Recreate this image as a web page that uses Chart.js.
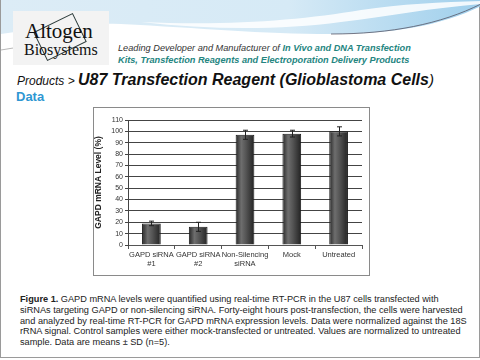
<!DOCTYPE html>
<html>
<head>
<meta charset="utf-8">
<script src="https://cdn.jsdelivr.net/npm/chart.js@4"></script>
<style>
  body { margin: 0; width: 480px; height: 360px; background: #fff; font-family: Arial, "Liberation Sans", sans-serif; overflow: hidden; }
  #slide { position: absolute; left: 0; top: 0; width: 478px; height: 357px; border: 1px solid #9a9a9a; border-top: none; background: #fff; }
  #swoosh { position: absolute; left: 0; top: 0; }
  #logo { position: absolute; left: 12px; top: 11px; width: 96px; height: 54px; background: #f3f3f3; }
  #logo .sq { position: absolute; left: 25px; top: 10px; width: 42px; height: 30px; border: 1px solid #2c3b3b; transform: rotate(-26deg); }
  #logo .a1 { position: absolute; left: 12px; top: 8px; font: 21px "Liberation Serif", serif; color: #111; }
  #logo .a2 { position: absolute; left: 11px; top: 30px; font: 16px "Liberation Serif", serif; color: #111; }
  .tag { position: absolute; left: 117px; font: italic 9.2px Arial, "Liberation Sans", sans-serif; white-space: nowrap; color: #333; }
  .tag b { color: #24857f; }
  #title { position: absolute; left: 16px; top: 71px; white-space: nowrap; color: #111; }
  #title .p { font: italic 12px Arial, "Liberation Sans", sans-serif; }
  #title .t { font: italic bold 16px Arial, "Liberation Sans", sans-serif; }
  #data { position: absolute; left: 15px; top: 89px; font: bold 13px Arial, "Liberation Sans", sans-serif; color: #2f97d2; }
  #box { position: absolute; left: 92px; top: 107px; width: 275px; height: 167px; border: 1px solid #8a8a8a; background: #fff; }
  #cap { position: absolute; left: 19px; top: 294px; font: 9.2px Arial, "Liberation Sans", sans-serif; line-height: 10.8px; white-space: nowrap; color: #222; }
</style>
</head>
<body>
<div id="slide">
  <svg id="swoosh" width="480" height="60" viewBox="0 0 480 60">
    <defs>
      <linearGradient id="sky" x1="0" y1="0" x2="1" y2="0">
        <stop offset="0" stop-color="#dcecf6"/>
        <stop offset="0.6" stop-color="#d6eaf6"/>
        <stop offset="1" stop-color="#9fcfec"/>
      </linearGradient>
    </defs>
    <path d="M0,0 H480 V6 C440,26 390,34 330,34 C260,34 200,28 120,24 C70,22 30,30 0,34 Z" fill="url(#sky)"/>
    <path d="M140,22 C230,26 300,20 360,10 C400,4 440,2 480,1 V4 C430,8 390,16 340,22 C280,30 210,30 140,22 Z" fill="#ffffff" opacity="0.85"/>
    <path d="M330,34 C390,34 440,24 480,4" stroke="#556" stroke-width="0.8" fill="none"/>
    <path d="M0,50 C12,48 24,46 36,45" stroke="#888" stroke-width="0.6" fill="none"/>
  </svg>
  <div id="logo">
    <div class="sq"></div>
    <div class="a1">Altogen</div>
    <div class="a2">Biosystems</div>
  </div>
  <div class="tag" style="top:43px">Leading Developer and Manufacturer of <b>In Vivo and DNA Transfection</b></div>
  <div class="tag" style="top:55px"><b>Kits, Transfection Reagents and Electroporation Delivery Products</b></div>
  <div id="title"><span class="p">Products &gt; </span><span class="t">U87 Transfection Reagent (Glioblastoma Cells</span><span class="p" style="font-size:15px">)</span></div>
  <div id="data">Data</div>
  <div id="box"><canvas id="cht" width="275" height="167"></canvas></div>
  <div id="cap"><b>Figure 1.</b> GAPD mRNA levels were quantified using real-time RT-PCR in the U87 cells transfected with<br>siRNAs targeting GAPD or non-silencing siRNA. Forty-eight hours post-transfection, the cells were harvested<br>and analyzed by real-time RT-PCR for GAPD mRNA expression levels. Data were normalized against the 18S<br>rRNA signal. Control samples were either mock-transfected or untreated. Values are normalized to untreated<br>sample. Data are means &plusmn; SD (n=5).</div>
</div>

<script>
const categories = [["GAPD siRNA", "#1"], ["GAPD siRNA", "#2"], ["Non-Silencing", "siRNA"], "Mock", "Untreated"];
const levels = [19, 16, 97, 98, 100];
const errors = [2, 4, 4, 3, 4];
const yTicks = [0, 10, 20, 30, 40, 50, 60, 70, 80, 90, 100, 110];

function barFill(ctx) {
    if (ctx.type !== 'data') return '#555';
    const x = ctx.chart.scales.x;
    if (!x) return '#555';
    const c = x.getPixelForValue(ctx.dataIndex);
    const half = x.width / categories.length * 0.4 / 2;
    if (!isFinite(c) || !isFinite(half) || half <= 0) return '#555';
    const g = ctx.chart.ctx.createLinearGradient(c - half, 0, c + half, 0);
    g.addColorStop(0, '#262626');
    g.addColorStop(0.3, '#6e6e6e');
    g.addColorStop(0.55, '#555');
    g.addColorStop(1, '#222');
    return g;
}

// error bars, drawn on top of the bars
const errorBars = {
    id: 'errorBars',
    afterDatasetsDraw(chart) {
        const y = chart.scales.y;
        const ctx = chart.ctx;
        ctx.save();
        ctx.strokeStyle = '#222';
        ctx.lineWidth = 1;
        chart.getDatasetMeta(0).data.forEach((bar, i) => {
            const top = y.getPixelForValue(levels[i] + errors[i]);
            const bot = y.getPixelForValue(levels[i] - errors[i]);
            const x = Math.round(bar.x) + 0.5;
            ctx.beginPath();
            ctx.moveTo(x, top); ctx.lineTo(x, bot);
            ctx.moveTo(x - 2.5, top); ctx.lineTo(x + 2.5, top);
            ctx.moveTo(x - 2.5, bot); ctx.lineTo(x + 2.5, bot);
            ctx.stroke();
        });
        ctx.restore();
    }
};

const ch = new Chart("cht", {
    type: "bar",
    data: {
        labels: categories,
        datasets: [{
            data: levels,
            backgroundColor: barFill,
            borderColor: '#1a1a1a',
            borderWidth: 1,
            barPercentage: 0.5,
            categoryPercentage: 0.8
        }]
    },
    plugins: [errorBars],
    options: {
        responsive: false,
        animation: false,
        layout: { padding: { top: 12, right: 7, left: 0, bottom: 0 } },
        plugins: { legend: { display: false }, tooltip: { enabled: false } },
        scales: {
            x: {
                afterFit(s) { s.height = 30; },
                border: { color: '#555' },
                grid: { drawOnChartArea: false, drawTicks: true, tickLength: 4, color: '#555', offset: true },
                ticks: { color: '#333', font: { family: 'Arial', size: 7.5 }, padding: 1, maxRotation: 0, autoSkip: false }
            },
            y: {
                min: yTicks[0], max: yTicks[yTicks.length - 1],
                afterFit(s) { s.width = 34; },
                border: { color: '#444' },
                grid: { display: true, drawOnChartArea: true, color: '#444', lineWidth: 1, tickLength: 3 },
                title: { display: true, text: 'GAPD mRNA Level (%)', color: '#222', font: { family: 'Arial', size: 8.5, weight: 'bold' }, padding: 0 },
                ticks: { stepSize: yTicks[1] - yTicks[0], autoSkip: false, color: '#333', font: { family: 'Arial', size: 7 }, padding: 2 }
            }
        }
    }
});
ch.update();
</script>
</body>
</html>
